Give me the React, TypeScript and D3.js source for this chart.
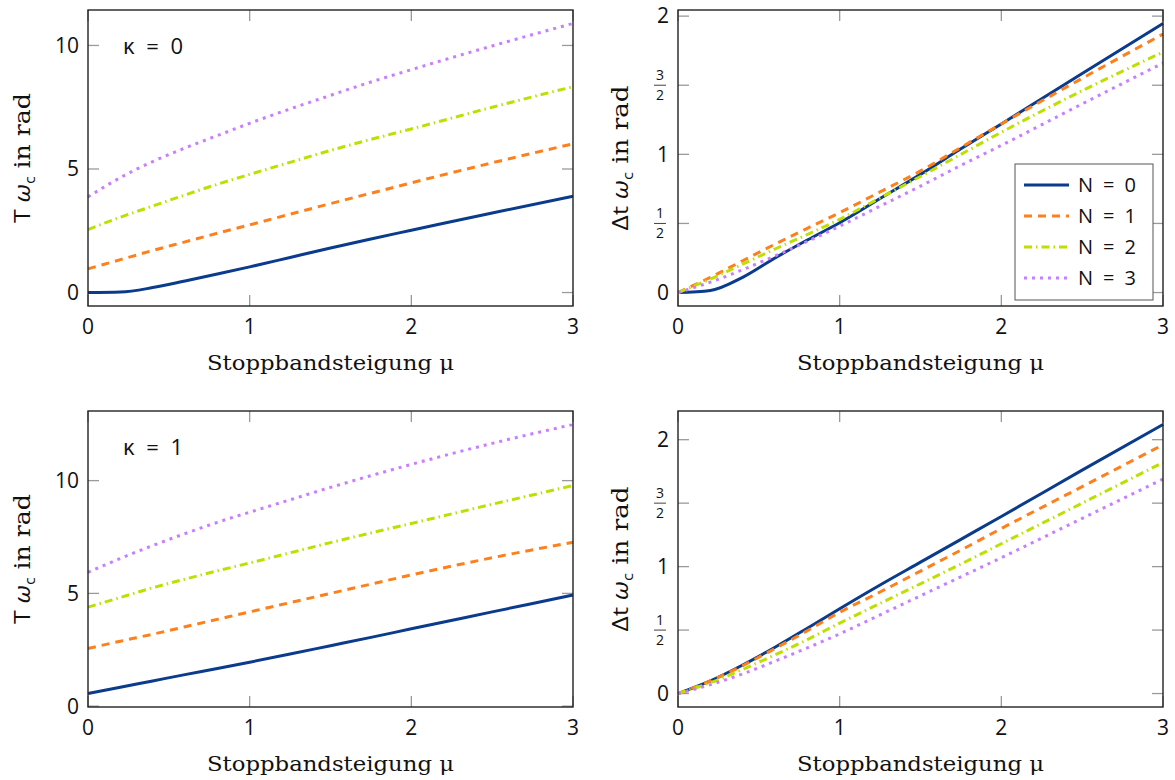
import React from "react";
import * as d3 from "d3";

const MU = [0, 0.2, 0.4, 0.6, 0.8, 1, 1.25, 1.5, 1.75, 2, 2.5, 3];

// kappa = 0, T*wc
const TL_N0 = [0, 0.02, 0.2, 0.47, 0.75, 1.04, 1.42, 1.8, 2.17, 2.52, 3.22, 3.9];
const TL_N1 = [0.96, 1.33, 1.7, 2.05, 2.4, 2.74, 3.17, 3.6, 4.02, 4.44, 5.25, 6.02];
const TL_N2 = [2.55, 3.05, 3.5, 3.95, 4.38, 4.78, 5.27, 5.75, 6.2, 6.62, 7.5, 8.33];
const TL_N3 = [3.87, 4.65, 5.3, 5.85, 6.35, 6.85, 7.43, 7.98, 8.52, 9.02, 9.98, 10.89];

// kappa = 0, dt*wc
const TR_N0 = [0, 0.015, 0.11, 0.25, 0.38, 0.505, 0.68, 0.855, 1.04, 1.22, 1.585, 1.947];
const TR_N1 = [0, 0.11, 0.23, 0.35, 0.465, 0.578, 0.728, 0.88, 1.05, 1.22, 1.55, 1.87];
const TR_N2 = [0, 0.097, 0.205, 0.315, 0.42, 0.53, 0.685, 0.84, 1.0, 1.16, 1.46, 1.74];
const TR_N3 = [0, 0.075, 0.165, 0.265, 0.37, 0.48, 0.625, 0.77, 0.92, 1.065, 1.365, 1.66];

// kappa = 1, T*wc
const BL_N0 = [0.56, 0.84, 1.12, 1.4, 1.67, 1.95, 2.31, 2.68, 3.05, 3.43, 4.18, 4.93];
const BL_N1 = [2.56, 2.88, 3.19, 3.52, 3.85, 4.18, 4.59, 5.0, 5.41, 5.82, 6.58, 7.27];
const BL_N2 = [4.39, 4.82, 5.25, 5.63, 6.0, 6.35, 6.8, 7.25, 7.68, 8.1, 8.95, 9.78];
const BL_N3 = [5.93, 6.55, 7.12, 7.65, 8.15, 8.6, 9.15, 9.7, 10.22, 10.72, 11.65, 12.49];

// kappa = 1, dt*wc
const BR_N0 = [0, 0.1, 0.225, 0.365, 0.515, 0.668, 0.855, 1.035, 1.215, 1.395, 1.76, 2.12];
const BR_N1 = [0, 0.1, 0.22, 0.355, 0.495, 0.64, 0.8, 0.965, 1.13, 1.3, 1.63, 1.96];
const BR_N2 = [0, 0.085, 0.19, 0.305, 0.425, 0.555, 0.71, 0.865, 1.02, 1.18, 1.5, 1.82];
const BR_N3 = [0, 0.07, 0.155, 0.255, 0.36, 0.47, 0.62, 0.77, 0.92, 1.07, 1.38, 1.69];

const X_TICKS = [0, 1, 2, 3];
const Y_TICKS_T = [0, 5, 10];
const Y_TICKS_DT = [0, 0.5, 1, 1.5, 2];
const LEGEND = ["N = 0", "N = 1", "N = 2", "N = 3"];

const COLORS = ["#0a3b8c", "#ff7f1a", "#bde000", "#c97dff"];
const DASHES = ["", "8 6", "8 4 1.5 4", "3 5"];

const NUM_FONT = "'Open Sans', 'Noto Sans', sans-serif";
const SERIF = "'DejaVu Serif', serif";

type PanelProps = {
  x0: number;
  x1: number;
  y0: number;
  y1: number;
  series: number[][];
  kind: "T" | "dt";
  kappa?: string;
  legend?: boolean;
};

function Panel({ x0, x1, y0, y1, series, kind, kappa, legend }: PanelProps) {
  const all = series.flat();
  const mn = d3.min(all)!;
  const mx = d3.max(all)!;
  const pad = (mx - mn) * 0.05;
  const x = d3.scaleLinear().domain([0, 3]).range([x0, x1]);
  const y = d3.scaleLinear().domain([mn - pad, mx + pad]).range([y1, y0]);
  const line = d3
    .line<number>()
    .x((_, i) => x(MU[i]))
    .y((d) => y(d))
    .curve(d3.curveMonotoneX);
  const yTicks = kind === "T" ? Y_TICKS_T : Y_TICKS_DT;
  const tickLen = 11;
  const tickColor = "#9a9a9a";
  const midY = (y0 + y1) / 2;
  const midX = (x0 + x1) / 2;

  const renderYLabel = (v: number) => {
    const ty = y(v);
    if (kind === "dt" && (v === 0.5 || v === 1.5)) {
      const num = v === 0.5 ? "1" : "3";
      return (
        <g key={"yl" + v} fontFamily={NUM_FONT} fontSize={14} textAnchor="middle" fill="#111">
          <text x={x0 - 18} y={ty - 5}>{num}</text>
          <line x1={x0 - 24} x2={x0 - 12} y1={ty} y2={ty} stroke="#111" strokeWidth={0.8} />
          <text x={x0 - 18} y={ty + 15}>2</text>
        </g>
      );
    }
    return (
      <text
        key={"yl" + v}
        x={x0 - 9}
        y={ty}
        dy="0.35em"
        textAnchor="end"
        fontFamily={NUM_FONT}
        fontSize={21}
        fill="#111"
      >
        {v}
      </text>
    );
  };

  return (
    <g>
      {X_TICKS.map((t) => (
        <g key={"xt" + t} stroke={tickColor} strokeWidth={1.3}>
          <line x1={x(t)} x2={x(t)} y1={y1} y2={y1 - tickLen} />
          <line x1={x(t)} x2={x(t)} y1={y0} y2={y0 + tickLen} />
        </g>
      ))}
      {yTicks.map((t) => (
        <g key={"yt" + t} stroke={tickColor} strokeWidth={1.3}>
          <line x1={x0} x2={x0 + tickLen} y1={y(t)} y2={y(t)} />
          <line x1={x1} x2={x1 - tickLen} y1={y(t)} y2={y(t)} />
        </g>
      ))}
      {series.map((s, i) => (
        <path
          key={"s" + i}
          d={line(s) || ""}
          fill="none"
          stroke={COLORS[i]}
          strokeWidth={3}
          strokeDasharray={DASHES[i] || undefined}
        />
      ))}
      <rect x={x0} y={y0} width={x1 - x0} height={y1 - y0} fill="none" stroke="#222" strokeWidth={1.4} />
      {X_TICKS.map((t) => (
        <text
          key={"xl" + t}
          x={x(t)}
          y={y1 + 28}
          textAnchor="middle"
          fontFamily={NUM_FONT}
          fontSize={21}
          fill="#111"
        >
          {t}
        </text>
      ))}
      {yTicks.map(renderYLabel)}
      <text
        x={midX}
        y={y1 + 64}
        textAnchor="middle"
        fontFamily={SERIF}
        fontSize={21}
        textLength={247}
        lengthAdjust="spacingAndGlyphs"
        fill="#111"
      >
        Stoppbandsteigung μ
      </text>
      <g transform={`translate(${kind === "T" ? 30 : 628},${midY}) rotate(-90)`}>
        <text
          textAnchor="middle"
          fill="#111"
          fontSize={22}
          textLength={kind === "T" ? 130 : 145}
          lengthAdjust="spacingAndGlyphs"
        >
          <tspan fontFamily={NUM_FONT}>{kind === "T" ? "T " : "Δt "}</tspan>
          <tspan fontFamily={NUM_FONT} fontStyle="italic">ω</tspan>
          <tspan fontFamily={NUM_FONT} fontSize={14} dy={5}>c</tspan>
          <tspan fontFamily={SERIF} dy={-5}> in rad</tspan>
        </text>
      </g>
      {kappa && (
        <text
          x={x0 + 35}
          y={y0 + 44}
          fontFamily={NUM_FONT}
          fontSize={22}
          fill="#111"
          textLength={60}
          lengthAdjust="spacing"
        >
          κ = {kappa}
        </text>
      )}
      {legend && (
        <g>
          <rect x={1015} y={164} width={138} height={136} fill="#fff" stroke="#555" strokeWidth={1} />
          {LEGEND.map((lab, i) => {
            const ly = 185 + i * 31;
            return (
              <g key={"lg" + i}>
                <line
                  x1={1024}
                  x2={1069}
                  y1={ly}
                  y2={ly}
                  stroke={COLORS[i]}
                  strokeWidth={3}
                  strokeDasharray={DASHES[i] || undefined}
                />
                <text
                  x={1078}
                  y={ly}
                  dy="0.35em"
                  fontFamily={NUM_FONT}
                  fontSize={20}
                  fill="#111"
                  textLength={58}
                  lengthAdjust="spacing"
                >
                  {lab}
                </text>
              </g>
            );
          })}
        </g>
      )}
    </g>
  );
}

export default function App() {
  return (
    <svg
      width={1175}
      height={780}
      style={{ position: "absolute", left: 0, top: 0, background: "#fff" }}
    >
      <rect width={1175} height={780} fill="#fff" />
      <Panel x0={88} x1={573} y0={10} y1={306} series={[TL_N0, TL_N1, TL_N2, TL_N3]} kind="T" kappa="0" />
      <Panel x0={678} x1={1163} y0={10} y1={306} series={[TR_N0, TR_N1, TR_N2, TR_N3]} kind="dt" legend />
      <Panel x0={88} x1={573} y0={411} y1={707} series={[BL_N0, BL_N1, BL_N2, BL_N3]} kind="T" kappa="1" />
      <Panel x0={678} x1={1163} y0={411} y1={707} series={[BR_N0, BR_N1, BR_N2, BR_N3]} kind="dt" />
    </svg>
  );
}
